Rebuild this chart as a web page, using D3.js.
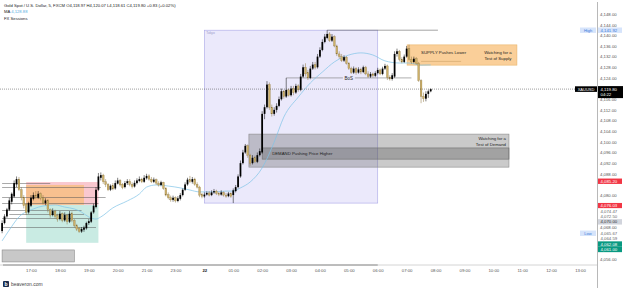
<!DOCTYPE html>
<html>
<head>
<meta charset="utf-8">
<script src="https://cdn.jsdelivr.net/npm/d3@7"></script>
<style>
  html, body { margin: 0; padding: 0; background: #fff; }
  svg { display: block; font-family: "Liberation Sans", Arial, sans-serif; }
</style>
</head>
<body>
<svg width="625" height="288"></svg>
<script>

// 5 min candles, bar 0 = 16:00 ; [open, high, low, close]
const candles = [
  [4066.5,4070.5,4065.67,4069.5],[4069.5,4072.8,4069.0,4072.0],[4072.0,4075.2,4071.5,4074.6],[4074.5,4079.0,4074.0,4078.0],
  [4077.5,4081.0,4076.5,4080.5],[4079.5,4085.5,4079.0,4084.5],[4084.0,4087.0,4083.0,4086.0],[4086.0,4086.8,4081.5,4082.0],
  [4082.0,4083.0,4078.0,4079.0],[4079.0,4080.0,4075.0,4076.0],[4076.5,4077.0,4072.5,4073.5],[4073.5,4077.5,4073.0,4077.0],
  [4076.0,4080.0,4075.5,4079.0],[4078.5,4081.0,4078.0,4080.0],[4080.0,4081.5,4078.5,4079.5],[4079.0,4081.5,4078.5,4080.5],
  [4080.5,4081.0,4078.0,4078.8],[4079.0,4080.0,4076.5,4077.0],[4077.0,4078.8,4076.2,4078.0],[4078.0,4078.5,4073.5,4074.5],
  [4074.5,4075.0,4071.5,4072.5],[4072.5,4075.0,4072.0,4074.0],[4074.0,4074.5,4071.2,4072.0],[4072.3,4073.0,4070.0,4071.0],
  [4071.0,4074.0,4070.5,4073.0],[4073.0,4073.5,4069.8,4070.5],[4070.5,4073.5,4070.0,4072.5],[4072.5,4073.0,4069.0,4070.0],
  [4070.0,4074.0,4069.5,4073.0],[4073.0,4073.8,4069.8,4070.5],[4070.5,4071.0,4067.8,4068.5],[4068.5,4069.2,4066.5,4067.2],
  [4067.5,4068.0,4065.8,4066.3],[4066.3,4068.0,4065.8,4067.3],[4067.0,4068.5,4066.2,4067.8],[4067.5,4070.0,4067.0,4069.5],
  [4069.5,4071.0,4068.8,4070.2],[4070.0,4074.0,4069.5,4073.5],[4073.5,4076.8,4073.0,4076.0],[4075.5,4083.0,4075.0,4082.0],
  [4082.0,4088.3,4081.5,4087.0],[4086.5,4088.5,4085.5,4087.5],[4087.5,4088.0,4084.2,4085.0],[4085.0,4086.0,4083.0,4084.0],
  [4084.0,4084.5,4081.5,4082.0],[4082.0,4084.0,4081.5,4083.5],[4083.5,4084.5,4081.8,4082.3],[4082.5,4085.5,4082.0,4084.5],
  [4084.3,4086.5,4084.0,4085.5],[4085.5,4086.0,4083.2,4083.8],[4084.0,4084.5,4082.2,4082.8],[4083.0,4085.3,4082.5,4084.5],
  [4084.5,4086.0,4083.8,4085.2],[4085.2,4086.0,4083.3,4084.0],[4084.0,4084.8,4082.5,4083.2],[4083.2,4085.5,4082.8,4084.6],
  [4084.5,4086.3,4084.0,4085.5],[4085.3,4087.0,4084.8,4086.0],[4086.0,4086.5,4084.5,4085.0],[4085.0,4087.5,4084.6,4086.5],
  [4086.3,4088.0,4085.8,4087.2],[4087.2,4087.8,4085.4,4086.0],[4086.0,4086.8,4084.5,4085.0],[4085.0,4086.6,4084.5,4085.8],
  [4085.8,4086.2,4083.8,4084.5],[4084.5,4085.2,4083.2,4083.8],[4083.8,4085.4,4083.3,4084.8],[4084.8,4085.0,4082.0,4082.5],
  [4082.5,4083.0,4079.5,4080.0],[4080.2,4081.0,4078.4,4079.0],[4079.0,4079.8,4077.5,4078.2],[4078.2,4079.8,4077.5,4079.0],
  [4079.0,4079.5,4077.2,4077.8],[4077.8,4079.6,4077.3,4078.8],[4078.6,4080.8,4078.0,4080.0],[4080.0,4082.5,4079.5,4082.0],
  [4082.0,4084.8,4081.5,4084.0],[4084.0,4086.5,4083.5,4085.8],[4085.8,4087.2,4084.5,4085.0],[4085.0,4086.8,4084.3,4086.0],
  [4086.0,4086.5,4083.5,4084.0],[4084.0,4084.8,4082.5,4083.0],[4083.0,4083.5,4079.2,4080.0],[4080.2,4080.8,4078.8,4079.5],
  [4079.5,4081.0,4079.0,4080.2],[4080.2,4081.4,4079.8,4080.8],[4080.8,4081.5,4079.5,4080.0],[4080.0,4081.8,4079.6,4081.0],
  [4081.0,4082.3,4080.5,4081.5],[4081.5,4082.0,4080.0,4080.6],[4080.6,4081.2,4079.6,4080.2],[4080.2,4081.8,4079.8,4081.0],
  [4081.0,4081.4,4079.4,4080.0],[4080.0,4080.8,4079.0,4079.6],[4079.6,4081.2,4079.2,4080.6],[4080.6,4081.0,4079.0,4079.5],
  [4080.0,4082.5,4077.0,4081.8],[4081.5,4083.8,4081.0,4083.0],[4083.0,4087.8,4082.5,4087.0],[4087.0,4093.0,4086.5,4092.0],
  [4092.0,4097.0,4091.5,4096.0],[4096.0,4099.2,4095.5,4098.5],[4098.5,4099.0,4094.0,4095.0],[4095.0,4095.5,4091.0,4092.0],
  [4092.0,4095.0,4091.5,4094.0],[4094.0,4094.8,4092.0,4092.5],[4092.5,4096.0,4092.0,4095.0],[4095.0,4097.5,4094.5,4096.5],
  [4096.0,4111.5,4095.5,4110.5],[4110.5,4114.0,4108.5,4113.0],[4113.0,4122.8,4112.5,4121.5],[4121.5,4122.3,4112.0,4113.0],
  [4113.0,4114.0,4109.5,4110.5],[4110.5,4113.0,4109.8,4112.0],[4112.0,4114.5,4111.0,4113.5],[4113.5,4117.0,4113.0,4116.0],
  [4116.0,4120.0,4115.5,4119.0],[4119.0,4119.5,4116.2,4117.0],[4117.0,4124.0,4116.5,4119.5],[4119.5,4120.0,4117.0,4117.5],
  [4117.5,4121.0,4117.0,4120.0],[4120.0,4121.0,4117.5,4118.5],[4118.5,4121.8,4118.0,4121.0],[4121.0,4121.6,4118.8,4119.5],
  [4119.5,4125.5,4119.0,4124.5],[4124.5,4129.0,4124.0,4128.0],[4128.0,4129.5,4124.5,4125.5],[4126.0,4127.0,4123.2,4124.0],
  [4124.0,4128.5,4123.5,4127.5],[4127.5,4130.0,4127.0,4129.0],[4129.0,4130.0,4127.2,4128.0],[4128.0,4133.0,4127.5,4132.0],
  [4132.0,4135.5,4131.5,4134.5],[4134.5,4138.5,4134.0,4137.5],[4137.5,4140.5,4137.0,4139.5],[4139.0,4141.92,4138.5,4140.5],
  [4140.5,4141.2,4137.5,4138.0],[4138.0,4140.5,4137.5,4139.5],[4139.5,4140.0,4135.5,4136.0],[4136.0,4136.5,4132.2,4133.0],
  [4133.0,4134.0,4131.2,4132.0],[4132.0,4133.0,4130.0,4130.5],[4130.5,4132.5,4130.0,4131.8],[4131.8,4132.2,4129.0,4129.5],
  [4129.5,4130.0,4127.0,4127.5],[4127.5,4128.2,4125.5,4126.0],[4126.0,4128.3,4125.5,4127.5],[4127.5,4128.0,4125.2,4126.0],
  [4126.0,4128.0,4125.6,4127.2],[4127.2,4127.8,4125.4,4126.2],[4126.2,4128.6,4125.8,4128.0],[4128.0,4128.5,4125.0,4125.5],
  [4125.5,4126.5,4124.0,4124.5],[4124.5,4126.2,4124.0,4125.5],[4125.5,4126.0,4124.2,4124.8],[4124.8,4126.5,4124.3,4125.8],
  [4125.8,4127.8,4125.3,4127.0],[4127.0,4127.5,4125.0,4125.5],[4125.5,4128.2,4125.0,4127.5],[4127.5,4129.3,4127.0,4128.5],
  [4128.5,4129.0,4123.2,4124.2],[4124.2,4125.0,4123.0,4123.6],[4123.6,4125.8,4123.0,4125.0],[4124.5,4134.0,4124.0,4133.0],
  [4133.0,4135.0,4132.0,4134.0],[4134.0,4134.5,4130.2,4131.0],[4131.0,4131.8,4129.5,4130.0],[4130.0,4132.8,4129.6,4132.0],
  [4132.0,4136.0,4131.6,4135.0],[4135.0,4136.5,4130.5,4131.0],[4131.0,4132.0,4129.3,4130.0],[4130.0,4132.0,4129.5,4131.2],
  [4131.2,4131.8,4129.0,4129.5],[4129.5,4130.0,4122.5,4123.0],[4123.0,4123.5,4114.5,4117.0],[4117.0,4118.5,4115.0,4116.2],
  [4116.2,4119.0,4115.2,4118.0],[4118.0,4119.6,4116.5,4118.97],[4118.97,4120.07,4118.61,4119.80]
];

// MA readings [bar, price]
const maPoints = [
  [0,4062.8],[3,4066.9],[7,4071.8],[13,4074.8],[17,4075.9],[22,4076.3],[26,4075.5],[30,4074.8],[33,4073.6],
  [36,4071.8],[39,4071.0],[41,4071.8],[46,4075.2],[52,4077.8],[57,4080.4],[60,4083.0],[64,4083.8],[69,4083.4],
  [74,4082.7],[78,4081.9],[82,4081.2],[88,4081.2],[93,4081.5],[96,4081.5],[99,4082.7],[103,4084.9],[108,4090.2],
  [113,4099.9],[117,4109.3],[123,4116.8],[128,4122.1],[133,4126.2],[138,4130.0],[144,4132.6],[149,4133.4],
  [154,4132.6],[159,4130.4],[165,4129.6],[169,4129.6],[174,4128.8],[178,4128.88]
];

// one label per hour, 12 bars apart, first at bar 12
const timeLabels = ["17:00","18:00","19:00","20:00","21:00","23:00","22","01:00","02:00","03:00","04:00",
  "05:00","06:00","07:00","08:00","09:00","10:00","11:00","12:00","13:00"];

const priceTicks = [4148,4144,4140,4136,4132,4128,4124,4116,4112,4108,4104,4100,4096,4092,4088,4080,4068,4056];

// horizontal levels on the left [price, fromBar, toBar]
const levels = [
  [4084.5,0,20],[4083.0,0,41],[4079.3,0,43],[4077.0,0,40],[4074.4,0,33],[4072.9,3,34],[4071.4,0,37],[4068.0,0,39]
];

// zones [fromBar, toBar, topPrice, bottomPrice]
const zonePink   = [10, 40, 4084.9, 4076.3];
const zoneOrange = [10, 34, 4083.8, 4076.3];
const zoneGreen  = [10, 40, 4076.3, 4062.08];
const zoneGrey   = [0, 30, 4059.4, 4054.9];
const sessionBox = [84, 156, 4141.92, 4077.0];
const demandOuter = [102.5, 210.5, 4102.9, 4090.5];
const demandInner = [108, 210.5, 4097.7, 4093.5];
const supplyZone  = [168.2, 213.8, 4136.4, 4128.8];
const bosLevel    = [4124.0, 118, 170, 144];
const highLine    = [4141.92, 135, 181];

// price scale tags [price, text, background, colour]
const axisTags = [
  [4141.92,"4,141.92","#d6e4fb","#3b78d8"],
  [4085.20,"4,085.20","#f23645","#ffffff"],
  [4076.03,"4,076.03","#f23645","#ffffff"],
  [4074.47,"4,074.47","#ffffff","#666666"],
  [4072.50,"4,072.50","#ffffff","#666666"],
  [4070.00,"4,070.00","#d1d4dc","#333333"],
  [4065.67,"4,065.67","#ffffff","#666666"],
  [4064.59,"4,064.59","#ffffff","#666666"],
  [4062.08,"4,062.08","#089981","#ffffff"],
  [4061.00,"4,061.00","#089981","#ffffff"]
];

const vis = {

    params : {
        largura : 625,
        altura : 288,
        eixo_x : 597,
        eixo_y : 265,
        cor_alta : "#000000",
        cor_baixa : "#cdb068",
        cor_pavio_baixa : "#8a733c"
    },

    refs : {
        svg : "svg"
    },

    scales : {
        x : d3.scaleLinear().domain([0, 240]).range([2.1, 580]),
        y : d3.scaleLinear().domain([4056, 4148]).range([259, 14])
    },

    draw : {

        rect : function(g, z, fill, stroke) {
            const x = vis.scales.x, y = vis.scales.y;
            return g.append("rect")
              .attr("x", x(z[0]))
              .attr("y", y(z[2]))
              .attr("width", x(z[1]) - x(z[0]))
              .attr("height", y(z[3]) - y(z[2]))
              .attr("fill", fill)
              .attr("stroke", stroke || "none")
              .attr("stroke-width", 0.6);
        },

        zonas : function(svg) {
            const g = svg.append("g");
            const x = vis.scales.x, y = vis.scales.y;

            // session box
            this.rect(g, sessionBox, "#ebe9fb", "#a9a6e6");
            g.append("text")
              .attr("x", x(sessionBox[0]) + 2).attr("y", y(sessionBox[2]) + 4)
              .attr("font-size", 3.2).attr("fill", "#9a98c8").text("Tokyo");

            this.rect(g, zonePink, "#f9c8cf");
            this.rect(g, zoneOrange, "#f8c08f");
            this.rect(g, zoneGreen, "#c9ebe3");
            this.rect(g, zoneGrey, "#c8c8c8", "#8a8a8a");

            this.rect(g, demandOuter, "rgba(90,90,90,0.32)", "#8a8a8a");
            this.rect(g, demandInner, "rgba(60,60,60,0.28)", "#6f6f6f");
            this.rect(g, supplyZone, "rgba(247,178,90,0.62)", "#e8b46a");
        },

        niveis : function(svg) {
            const g = svg.append("g");
            const x = vis.scales.x, y = vis.scales.y;

            g.selectAll("line.nivel")
              .data(levels)
              .join("line")
              .attr("x1", d => x(d[1])).attr("x2", d => x(d[2]))
              .attr("y1", d => Math.round(y(d[0])) + 0.5).attr("y2", d => Math.round(y(d[0])) + 0.5)
              .attr("stroke", "#555").attr("stroke-width", 0.5);

            // high of the session
            g.append("line")
              .attr("x1", x(highLine[1])).attr("x2", x(highLine[2]))
              .attr("y1", y(highLine[0])).attr("y2", y(highLine[0]))
              .attr("stroke", "#666").attr("stroke-width", 0.6);

            // break of structure
            const by = y(bosLevel[0]);
            g.append("line")
              .attr("x1", x(bosLevel[1])).attr("x2", x(bosLevel[3]) - 6)
              .attr("y1", by).attr("y2", by).attr("stroke", "#777").attr("stroke-width", 0.6);
            g.append("line")
              .attr("x1", x(bosLevel[3]) + 6).attr("x2", x(bosLevel[2]))
              .attr("y1", by).attr("y2", by).attr("stroke", "#777").attr("stroke-width", 0.6);
            g.append("text")
              .attr("x", x(bosLevel[3])).attr("y", by + 1.6)
              .attr("text-anchor", "middle").attr("font-size", 4.5).attr("fill", "#222")
              .text("BoS");
        },

        media : function(svg) {
            const x = vis.scales.x, y = vis.scales.y;
            const linha = d3.line()
              .x(d => x(d[0]))
              .y(d => y(d[1]))
              .curve(d3.curveMonotoneX);

            svg.append("path")
              .attr("d", linha(maPoints))
              .attr("fill", "none")
              .attr("stroke", "#7ec3e6")
              .attr("stroke-width", 0.7);
        },

        velas : function(svg) {
            const x = vis.scales.x, y = vis.scales.y;
            const largura = 1.75;
            const g = svg.append("g");

            const velas = g.selectAll("g.vela")
              .data(candles)
              .join("g");

            velas.append("line")
              .attr("x1", (d, i) => x(i)).attr("x2", (d, i) => x(i))
              .attr("y1", d => y(d[1])).attr("y2", d => y(d[2]))
              .attr("stroke", d => d[3] >= d[0] ? vis.params.cor_alta : vis.params.cor_pavio_baixa)
              .attr("stroke-width", 0.5);

            velas.append("rect")
              .attr("x", (d, i) => x(i) - largura / 2)
              .attr("y", d => y(Math.max(d[0], d[3])))
              .attr("width", largura)
              .attr("height", d => Math.max(0.5, Math.abs(y(d[0]) - y(d[3]))))
              .attr("fill", d => d[3] >= d[0] ? vis.params.cor_alta : vis.params.cor_baixa)
              .attr("stroke", d => d[3] >= d[0] ? "none" : vis.params.cor_pavio_baixa)
              .attr("stroke-width", 0.3);
        },

        textos : function(svg) {
            const x = vis.scales.x, y = vis.scales.y;

            // demand
            svg.append("text")
              .attr("x", x(demandInner[0]) + 10).attr("y", y((demandInner[2] + demandInner[3]) / 2) + 1.5)
              .attr("font-size", 4.3).attr("fill", "#1c1c1c")
              .text("DEMAND Pushing Price Higher");
            svg.append("text")
              .attr("x", x(demandOuter[1]) - 3).attr("y", y(demandOuter[2]) + 6)
              .attr("text-anchor", "end").attr("font-size", 4.3).attr("fill", "#1c1c1c")
              .selectAll("tspan")
              .data(["Watching for a", "Test of Demand"])
              .join("tspan")
              .attr("x", x(demandOuter[1]) - 3)
              .attr("dy", (d, i) => i ? 5.6 : 0)
              .text(d => d);

            // supply
            svg.append("text")
              .attr("x", x(supplyZone[0]) + 14).attr("y", y(supplyZone[2]) + 9)
              .attr("font-size", 4.3).attr("fill", "#1c1c1c")
              .text("SUPPLY Pushes Lower");
            svg.append("line")
              .attr("x1", x(supplyZone[0]) + 14).attr("x2", x(supplyZone[0]) + 54)
              .attr("y1", y(supplyZone[2]) + 16.5).attr("y2", y(supplyZone[2]) + 16.5)
              .attr("stroke", "#b58a4e").attr("stroke-width", 0.4);
            svg.append("text")
              .attr("text-anchor", "middle").attr("font-size", 4.3).attr("fill", "#1c1c1c")
              .attr("y", y(supplyZone[2]) + 9)
              .selectAll("tspan")
              .data(["Watching for a", "Test of Supply"])
              .join("tspan")
              .attr("x", x(supplyZone[1]) - 19)
              .attr("dy", (d, i) => i ? 6 : 0)
              .text(d => d);
        },

        eixos : function(svg) {
            const x = vis.scales.x, y = vis.scales.y;
            const p = vis.params;

            // current price
            svg.append("line")
              .attr("x1", 0).attr("x2", p.eixo_x)
              .attr("y1", y(4119.80)).attr("y2", y(4119.80))
              .attr("stroke", "#333").attr("stroke-width", 0.6)
              .attr("stroke-dasharray", "0.8,1.2");

            // price scale panel
            svg.append("rect")
              .attr("x", p.eixo_x).attr("y", 0)
              .attr("width", p.largura - p.eixo_x).attr("height", p.altura)
              .attr("fill", "#fff");

            svg.append("line")
              .attr("x1", p.eixo_x + 0.5).attr("x2", p.eixo_x + 0.5)
              .attr("y1", 2).attr("y2", p.altura)
              .attr("stroke", "#9a9a9a").attr("stroke-width", 0.7);

            svg.append("line")
              .attr("x1", 0).attr("x2", p.eixo_x)
              .attr("y1", p.eixo_y).attr("y2", p.eixo_y)
              .attr("stroke", "#c9c9c9").attr("stroke-width", 0.8);
            svg.append("line")
              .attr("x1", 3).attr("x2", x(sessionBox[1]))
              .attr("y1", p.eixo_y).attr("y2", p.eixo_y)
              .attr("stroke", "#8f8f8f").attr("stroke-width", 1.1);

            // price ticks
            const eixoY = d3.axisRight(y)
              .tickValues(priceTicks)
              .tickSize(0)
              .tickPadding(3)
              .tickFormat(d3.format(",.2f"));

            const gy = svg.append("g")
              .attr("transform", `translate(${p.eixo_x},0)`)
              .call(eixoY);
            gy.select(".domain").remove();
            gy.selectAll("text").attr("font-size", 4.3).attr("fill", "#555")
              .attr("font-family", "Liberation Sans, Arial, sans-serif");

            // time labels
            const eixoX = d3.axisBottom(x)
              .tickValues(timeLabels.map((t, i) => (i + 1) * 12))
              .tickSize(0)
              .tickPadding(4)
              .tickFormat((d, i) => timeLabels[i]);

            const gx = svg.append("g")
              .attr("transform", `translate(0,${p.eixo_y})`)
              .call(eixoX);
            gx.select(".domain").remove();
            gx.selectAll("text").attr("font-size", 4.3).attr("fill", "#555")
              .attr("font-family", "Liberation Sans, Arial, sans-serif")
              .attr("font-weight", d => d === 84 ? "bold" : "normal")
              .attr("fill", d => d === 84 ? "#222" : "#555");
        },

        etiquetas : function(svg) {
            const y = vis.scales.y;
            const p = vis.params;
            const alt = 5.4;

            // push tags apart so they do not overlap
            const tags = axisTags.map(t => ({ price: t[0], text: t[1], bg: t[2], fg: t[3], y: y(t[0]) }));
            tags.sort((a, b) => a.y - b.y);
            for (let i = 1; i < tags.length; i++) {
                if (tags[i].y - tags[i - 1].y < alt) tags[i].y = tags[i - 1].y + alt;
            }

            const g = svg.append("g");
            const tg = g.selectAll("g").data(tags).join("g")
              .attr("transform", d => `translate(${p.eixo_x + 1},${d.y})`);
            tg.append("rect")
              .attr("x", 0).attr("y", -alt / 2).attr("width", 24).attr("height", alt)
              .attr("fill", d => d.bg);
            tg.append("text")
              .attr("x", 2.5).attr("y", 1.5)
              .attr("font-size", 4.3).attr("fill", d => d.fg)
              .text(d => d.text);

            // High / Low markers
            const hy = y(4141.92);
            g.append("rect").attr("x", 580).attr("y", hy - 2.7).attr("width", 16).attr("height", 5.4).attr("fill", "#d6e4fb");
            g.append("text").attr("x", 588).attr("y", hy + 1.5).attr("text-anchor", "middle")
              .attr("font-size", 4).attr("fill", "#3b78d8").text("High");
            const ly = tags.find(t => t.price === 4065.67).y;
            g.append("rect").attr("x", 580).attr("y", ly - 2.7).attr("width", 16).attr("height", 5.4).attr("fill", "#d6e4fb");
            g.append("text").attr("x", 588).attr("y", ly + 1.5).attr("text-anchor", "middle")
              .attr("font-size", 4).attr("fill", "#3b78d8").text("Low");

            // last price
            const cy = y(4119.80);
            g.append("rect").attr("x", 575).attr("y", cy - 2.8).attr("width", 22).attr("height", 5.6).attr("fill", "#000");
            g.append("text").attr("x", 586).attr("y", cy + 1.5).attr("text-anchor", "middle")
              .attr("font-size", 4).attr("fill", "#fff").text("XAUUSD");
            g.append("rect").attr("x", p.eixo_x + 1).attr("y", cy - 3).attr("width", 25).attr("height", 12).attr("fill", "#000");
            g.append("text").attr("x", p.eixo_x + 3.5).attr("y", cy + 1.5)
              .attr("font-size", 4.3).attr("fill", "#fff").text("4,119.80");
            g.append("text").attr("x", p.eixo_x + 3.5).attr("y", cy + 7)
              .attr("font-size", 4.3).attr("fill", "#fff").text("04:22");
        },

        cabecalho : function(svg) {
            const g = svg.append("g").attr("font-size", 4.2).attr("fill", "#222");
            const l1 = g.append("text").attr("x", 4).attr("y", 6.5);
            l1.append("tspan").text("Gold Spot / U.S. Dollar, 5, FXCM  ");
            l1.append("tspan").text("O4,118.97  H4,120.07  L4,118.61  C4,119.80  +0.83 (+0.02%)");
            const l2 = g.append("text").attr("x", 4).attr("y", 13);
            l2.append("tspan").text("MA  ");
            l2.append("tspan").attr("fill", "#5aaee0").text("4,128.88");
            g.append("text").attr("x", 4).attr("y", 19.5).text("FX Sessions");

            // footer
            svg.append("rect").attr("x", 3).attr("y", 281).attr("width", 6).attr("height", 6)
              .attr("rx", 0.8).attr("fill", "#1a2b4c");
            svg.append("text").attr("x", 6).attr("y", 286).attr("text-anchor", "middle")
              .attr("font-size", 5).attr("font-weight", "bold").attr("fill", "#fff").text("b");
            svg.append("text").attr("x", 11).attr("y", 286)
              .attr("font-size", 5).attr("fill", "#444").text("beaveron.com");
        }
    },

    control : {

        init : function() {
            const svg = d3.select(vis.refs.svg);
            vis.draw.zonas(svg);
            vis.draw.niveis(svg);
            vis.draw.media(svg);
            vis.draw.velas(svg);
            vis.draw.textos(svg);
            vis.draw.eixos(svg);
            vis.draw.etiquetas(svg);
            vis.draw.cabecalho(svg);
        }

    }

}

vis.control.init();
</script>
</body>
</html>
